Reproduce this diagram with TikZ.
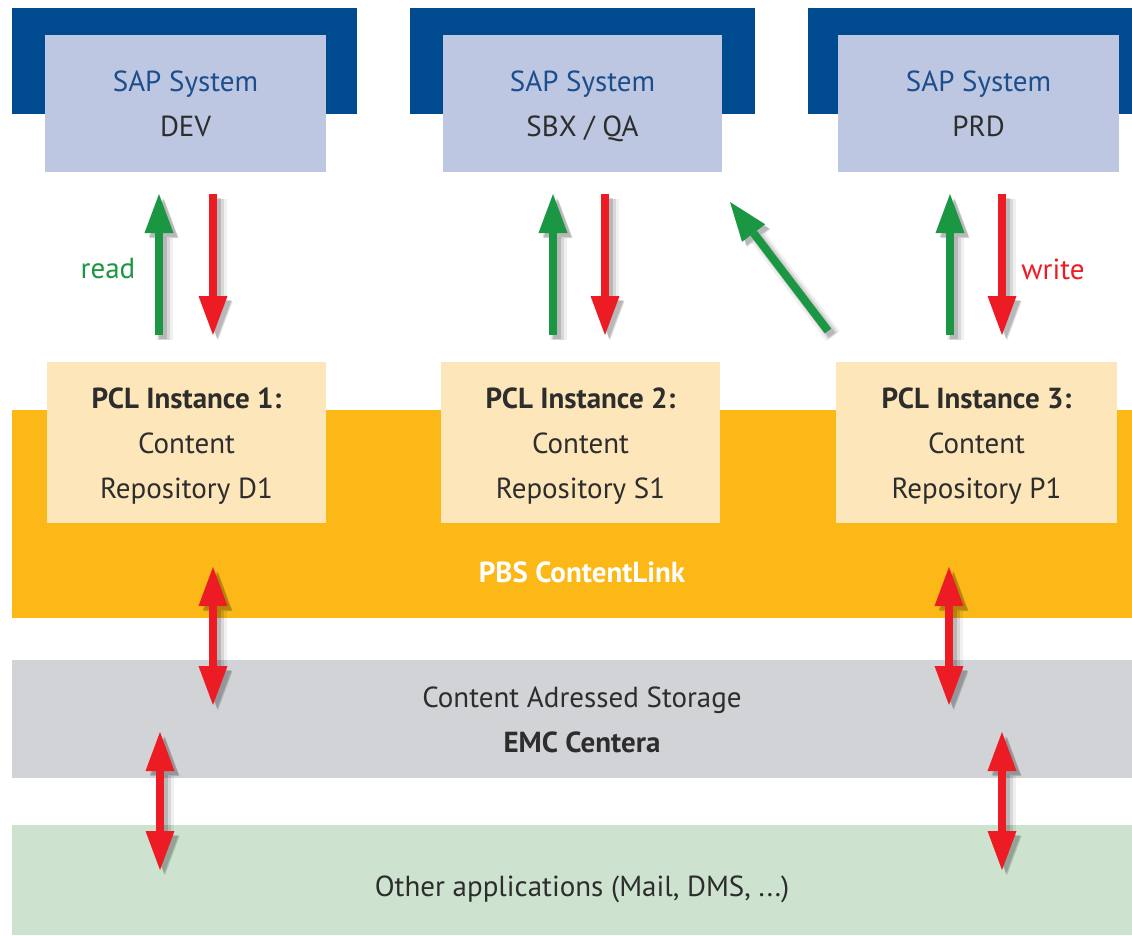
\documentclass[tikz,border=0pt]{standalone}
\usepackage{fontspec}
\setmainfont{PT Sans}
\usetikzlibrary{arrows.meta}
\definecolor{sapdark}{RGB}{0,74,143}
\definecolor{saplight}{RGB}{190,199,225}
\definecolor{saptext}{RGB}{28,78,142}
\definecolor{txt}{RGB}{45,45,45}
\definecolor{pclfill}{RGB}{253,230,185}
\definecolor{orangeband}{RGB}{251,184,23}
\definecolor{grayband}{RGB}{209,211,214}
\definecolor{greenband}{RGB}{205,227,207}
\definecolor{arrgreen}{RGB}{27,150,66}
\definecolor{arrred}{RGB}{237,28,36}
\begin{document}
\begin{tikzpicture}[x=1pt,y=-1pt,
  block/.style={anchor=north west, inner sep=0pt, outer sep=0pt, align=center},
  lbl/.style={font=\fontsize{29}{45}\selectfont, text=txt},
  softshadow/.style={
    preaction={draw=black, opacity=0.06, line width=17pt, transform canvas={shift={(5,5)}}},
    preaction={draw=black, opacity=0.10, line width=12pt, transform canvas={shift={(5,5)}}},
    preaction={draw=black, opacity=0.15, line width=8pt, transform canvas={shift={(4,4)}}}},
  onearrow/.style={softshadow, line width=8pt,
    -{Triangle[width=29pt, length=39pt, line width=0pt]}},
  twoarrow/.style={softshadow, line width=8pt,
    {Triangle[width=29pt, length=39pt, line width=0pt]}-{Triangle[width=29pt, length=39pt, line width=0pt]}}
]
\useasboundingbox (0,0) rectangle (1132,935);

% SAP systems
\node[block, fill=sapdark, minimum width=345pt, minimum height=106pt] (bar1) at (12,8) {};
\node[block, fill=sapdark, minimum width=345pt, minimum height=106pt] (bar2) at (410,8) {};
\node[block, fill=sapdark, minimum width=324pt, minimum height=106pt] (bar3) at (808,8) {};
\node[block, fill=saplight, minimum width=281pt, minimum height=137pt] (dev) at (45,35) {};
\node[block, fill=saplight, minimum width=279pt, minimum height=137pt] (sbx) at (443,35) {};
\node[block, fill=saplight, minimum width=281pt, minimum height=137pt] (prd) at (838,35) {};
\node[lbl, align=center, yshift=-2.5pt] (devtext) at (dev.center) {\textcolor{saptext}{SAP System}\\DEV\vphantom{/}};
\node[lbl, align=center, yshift=-2.5pt] (sbxtext) at (sbx.center) {\textcolor{saptext}{SAP System}\\SBX / QA};
\node[lbl, align=center, yshift=-2.5pt] (prdtext) at (prd.center) {\textcolor{saptext}{SAP System}\\PRD\vphantom{/}};

% bands
\node[block, fill=orangeband, minimum width=1120pt, minimum height=208pt] (pbs) at (12,410) {};
\node[block, fill=grayband, minimum width=1120pt, minimum height=118pt] (cas) at (12,660) {};
\node[block, fill=greenband, minimum width=1120pt, minimum height=110pt] (other) at (12,825) {};
\node[lbl, text=white, font=\fontsize{29}{45}\selectfont\bfseries] (pbstext) at (582,572) {PBS ContentLink};
\node[lbl, align=center] (castext) at (582,720) {Content Adressed Storage\\\textbf{EMC Centera}};
\node[lbl] (othertext) at (582,889) {Other applications (Mail, DMS, ...)};

% PCL instances
\node[block, fill=pclfill, minimum width=279pt, minimum height=161pt] (pcl1) at (47,362) {};
\node[block, fill=pclfill, minimum width=279pt, minimum height=161pt] (pcl2) at (441,362) {};
\node[block, fill=pclfill, minimum width=281pt, minimum height=161pt] (pcl3) at (836,362) {};
\node[lbl, align=center, yshift=-4pt] (pcl1text) at (pcl1.center) {\textbf{PCL Instance 1:}\\Content\\Repository D1};
\node[lbl, align=center, yshift=-4pt] (pcl2text) at (pcl2.center) {\textbf{PCL Instance 2:}\\Content\\Repository S1};
\node[lbl, align=center, yshift=-4pt] (pcl3text) at (pcl3.center) {\textbf{PCL Instance 3:}\\Content\\Repository P1};

% labels
\node[lbl, text=arrgreen] (read) at (108,269) {read};
\node[lbl, text=arrred] (write) at (1053,269) {write};

% arrow end points
\coordinate (g1a) at (159,335); \coordinate (g1b) at (159,194);
\coordinate (r1a) at (213,194); \coordinate (r1b) at (213,335);
\coordinate (g2a) at (553,335); \coordinate (g2b) at (553,194);
\coordinate (r2a) at (605,194); \coordinate (r2b) at (605,335);
\coordinate (g3a) at (950,335); \coordinate (g3b) at (950,194);
\coordinate (r3a) at (1002,194); \coordinate (r3b) at (1002,335);
\coordinate (dga) at (828,331); \coordinate (dgb) at (730,202);
\coordinate (d1a) at (213,567); \coordinate (d1b) at (213,705);
\coordinate (d2a) at (160,732); \coordinate (d2b) at (160,870);
\coordinate (d3a) at (949,567); \coordinate (d3b) at (949,705);
\coordinate (d4a) at (1002,732); \coordinate (d4b) at (1002,870);

\draw[onearrow, arrgreen] (g1a) -- (g1b);
\draw[onearrow, arrred] (r1a) -- (r1b);
\draw[onearrow, arrgreen] (g2a) -- (g2b);
\draw[onearrow, arrred] (r2a) -- (r2b);
\draw[onearrow, arrgreen] (g3a) -- (g3b);
\draw[onearrow, arrred] (r3a) -- (r3b);
\draw[onearrow, arrgreen] (dga) -- (dgb);
\draw[twoarrow, arrred] (d1a) -- (d1b);
\draw[twoarrow, arrred] (d2a) -- (d2b);
\draw[twoarrow, arrred] (d3a) -- (d3b);
\draw[twoarrow, arrred] (d4a) -- (d4b);
\end{tikzpicture}
\end{document}
